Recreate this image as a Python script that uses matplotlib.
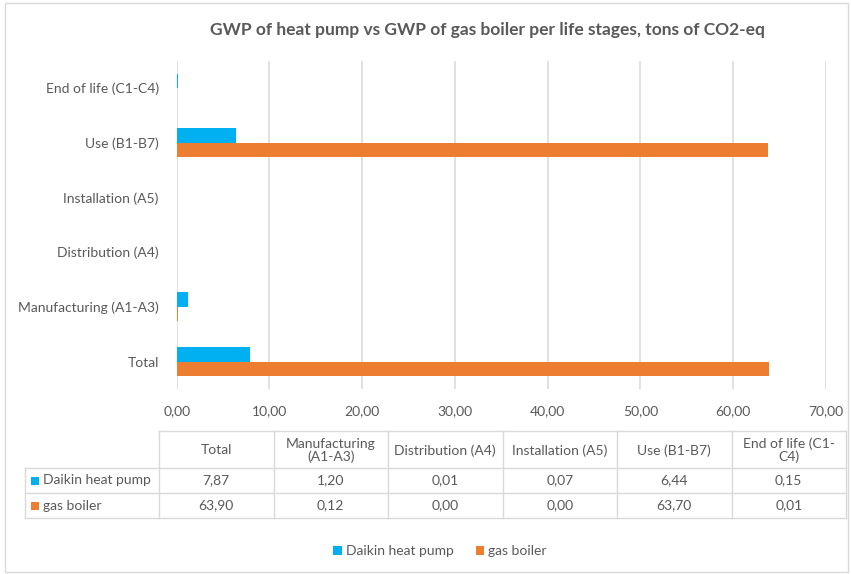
import matplotlib
matplotlib.use("Agg")
import matplotlib.pyplot as plt
from matplotlib.patches import Rectangle
from matplotlib.lines import Line2D
from matplotlib.ticker import FuncFormatter, MultipleLocator

# ---- data ----
categories = ["Total", "Manufacturing (A1-A3)", "Distribution (A4)",
              "Installation (A5)", "Use (B1-B7)", "End of life (C1-C4)"]
table_headers = ["Total", "Manufacturing\n(A1-A3)", "Distribution (A4)",
                 "Installation (A5)", "Use (B1-B7)", "End of life (C1-\nC4)"]
series_names = ["Daikin heat pump", "gas boiler"]
daikin = [7.87, 1.20, 0.01, 0.07, 6.44, 0.15]
gas_boiler = [63.90, 0.12, 0.00, 0.00, 63.70, 0.01]
title = "GWP of heat pump vs GWP of gas boiler per life stages, tons of CO2-eq"

# ---- style ----
W, H = 851, 574
FONT = "Lato"
TXT = "#595959"
GRID = "#D9D9D9"
C_BLUE = "#00B0F0"
C_ORANGE = "#ED7D31"
plt.rcParams["font.family"] = [FONT, "DejaVu Sans"]

def fx(x):
    return x / W

def fy(y):
    return 1 - y / H

fig = plt.figure(figsize=(W / 100, H / 100), dpi=100)

# outer frame
fig.add_artist(Rectangle((fx(5), fy(572)), fx(848) - fx(5), fy(3) - fy(572),
                         transform=fig.transFigure, fill=False,
                         edgecolor="#D9D9D9", linewidth=1))

# axes
x0, x1 = 176.7, 826.0
ytop, ybot = 60.6, 388.9
ax = fig.add_axes([fx(x0), fy(ybot), fx(x1) - fx(x0), fy(ytop) - fy(ybot)])
ypos = list(range(len(categories)))
bh = 0.262
ax.barh([y + bh / 2 for y in ypos], daikin, height=bh, color=C_BLUE, label=series_names[0])
ax.barh([y - bh / 2 for y in ypos], gas_boiler, height=bh, color=C_ORANGE, label=series_names[1])
ax.set_xlim(0, 70)
ax.set_ylim(-0.5, len(categories) - 0.5)
ax.xaxis.set_major_locator(MultipleLocator(10))
ax.xaxis.set_major_formatter(FuncFormatter(lambda v, p: f"{v:.2f}".replace(".", ",")))
ax.set_yticks(ypos)
ax.set_yticklabels(categories)
ax.grid(axis="x", color=GRID, linewidth=1.1)
ax.set_axisbelow(True)
for s in ax.spines.values():
    s.set_visible(False)
ax.tick_params(axis="x", length=0, pad=12, labelsize=10, labelcolor=TXT)
ax.tick_params(axis="y", length=0, pad=13, labelsize=10, labelcolor=TXT)

fig.text(fx(487), fy(30), title, ha="center", va="center",
         fontsize=12.5, fontweight="bold", color=TXT)

# ---- data table ----
col_edges = [159 + i * 114.5 for i in range(len(categories) + 1)]
lab_left = 25
y_head_top, y_head_bot, y_r1, y_r2 = 431, 468, 493, 518
lw = 1.0

def hline(xa, xb, y):
    fig.add_artist(Line2D([fx(xa), fx(xb)], [fy(y), fy(y)], transform=fig.transFigure,
                          color=GRID, linewidth=lw))

def vline(x, ya, yb):
    fig.add_artist(Line2D([fx(x), fx(x)], [fy(ya), fy(yb)], transform=fig.transFigure,
                          color=GRID, linewidth=lw))

hline(col_edges[0], col_edges[-1], y_head_top)
hline(lab_left, col_edges[-1], y_head_bot)
hline(lab_left, col_edges[-1], y_r1)
hline(lab_left, col_edges[-1], y_r2)
for x in col_edges:
    vline(x, y_head_top, y_r2)
vline(lab_left, y_head_bot, y_r2)

for i, h in enumerate(table_headers):
    cx = (col_edges[i] + col_edges[i + 1]) / 2
    fig.text(fx(cx), fy((y_head_top + y_head_bot) / 2 + 1), h, ha="center", va="center",
             fontsize=10, color=TXT, linespacing=1.05)

rows = [(series_names[0], daikin, C_BLUE, (y_head_bot + y_r1) / 2),
        (series_names[1], gas_boiler, C_ORANGE, (y_r1 + y_r2) / 2)]
for name, vals, col, cy in rows:
    fig.add_artist(Rectangle((fx(31), fy(cy + 4)), fx(8), 8 / H, transform=fig.transFigure,
                             facecolor=col, edgecolor="none"))
    fig.text(fx(43), fy(cy), name, ha="left", va="center", fontsize=10, color=TXT)
    for i, v in enumerate(vals):
        cx = (col_edges[i] + col_edges[i + 1]) / 2
        fig.text(fx(cx), fy(cy), f"{v:.2f}".replace(".", ","), ha="center", va="center",
                 fontsize=10, color=TXT)

# ---- legend ----
handles = [Rectangle((0, 0), 1, 1, facecolor=C_BLUE, edgecolor="none"),
           Rectangle((0, 0), 1, 1, facecolor=C_ORANGE, edgecolor="none")]
fig.legend(handles, series_names, loc="center", bbox_to_anchor=(fx(440), fy(551)),
           ncol=2, frameon=False, fontsize=10, labelcolor=TXT,
           handlelength=0.6, handleheight=0.6, handletextpad=0.3, columnspacing=1.6)

fig.savefig("out.png", dpi=100)
